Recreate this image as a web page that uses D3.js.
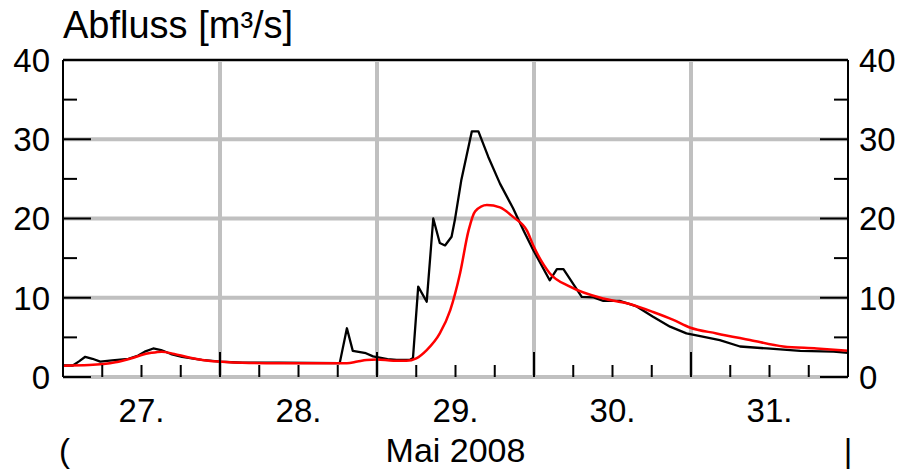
<!DOCTYPE html>
<html>
<head>
<meta charset="utf-8">
<script src="https://cdn.jsdelivr.net/npm/d3@7"></script>
<style>
  body { margin: 0; background: #fff; }
  svg { display: block; font-family: "Liberation Sans", Arial, sans-serif; }
</style>
</head>
<body>
<svg id="chart" width="902" height="469"></svg>
<script>
// hours since 27 May 2008 00:00
const obsHours = [0, 1.5, 2.5, 3.4, 4.5, 5.7, 7.5, 10, 11.5, 12.5, 13.8, 15, 16.5, 18.2, 21.2, 24, 27.4, 33,
  42.3, 43.4, 44.3, 46.3, 47.4, 49.6, 51, 53, 53.5, 54.3, 55.6, 56.6, 57.6, 58.4, 59.4, 59.9, 60.9, 62.5, 63.5,
  65, 66.8, 68.8, 70.4, 71.9, 74.4, 75.5, 76.5, 79.3, 81.1, 82.6, 85.1, 87.7, 90.2, 92.8, 95.3, 97.4, 100.4,
  103.5, 107.6, 112.7, 117.8, 120];
const obsValues = [1.45, 1.45, 2.0, 2.55, 2.3, 1.95, 2.1, 2.3, 2.7, 3.2, 3.6, 3.4, 2.9, 2.55, 2.15, 1.95, 1.8, 1.8,
  1.75, 6.15, 3.3, 3.0, 2.6, 2.25, 2.15, 2.15, 2.4, 11.4, 9.5, 20.0, 16.9, 16.6, 17.7, 19.8, 24.9, 31.0, 31.0,
  27.8, 24.4, 21.3, 18.5, 16.0, 12.2, 13.6, 13.6, 10.1, 10.05, 9.6, 9.6, 8.9, 7.6, 6.35, 5.5, 5.15, 4.65,
  3.85, 3.6, 3.3, 3.2, 3.05];

const simHours = [0, 4, 8, 9.1, 11, 12, 13.5, 15.1, 17, 19.1, 22.2, 24.3, 27.4, 33, 43.4, 45, 46.4, 48, 50.5,
  52.5, 54, 55.6, 57.6, 59.2, 60.7, 62, 63, 64.8, 66.8, 68.8, 70.9, 72, 74.4, 77.5, 82.6, 86.2, 90.2, 93.3,
  95.8, 99.9, 105, 110.1, 115.2, 120];
const simValues = [1.43, 1.5, 1.85, 2.06, 2.5, 2.78, 3.05, 3.2, 2.9, 2.5, 2.06, 1.93, 1.8, 1.73, 1.73, 1.95, 2.15,
  2.22, 2.06, 2.06, 2.36, 3.4, 5.5, 8.45, 13.1, 18.5, 20.9, 21.7, 21.4, 20.2, 18.5, 16.4, 13.1, 11.4, 9.9, 9.3,
  8.2, 7.2, 6.25, 5.5, 4.67, 3.85, 3.6, 3.3];

const yMajor = [0, 10, 20, 30, 40];
const yMinor = [5, 15, 25, 35];
const dayLabels = ["27.", "28.", "29.", "30.", "31."];
const title = "Abfluss [m³/s]";
const monthLabel = "Mai 2008";

const start = new Date(2008, 4, 27);
const end = new Date(2008, 5, 1);
const toDate = (h) => new Date(start.getTime() + h * 3600e3);

const plotLeft = 63, plotRight = 848, plotTop = 60, plotBottom = 377;

const x = d3.scaleTime().domain([start, end]).range([plotLeft, plotRight]);
const y = d3.scaleLinear().domain([0, 40]).range([plotBottom, plotTop]);

const svg = d3.select("#chart");
svg.append("rect").attr("width", 902).attr("height", 469).attr("fill", "#fff");

const grid = svg.append("g");
grid.selectAll("line.h")
  .data(yMajor)
  .enter()
  .append("line")
  .attr("x1", plotLeft).attr("x2", plotRight)
  .attr("y1", (d) => y(d)).attr("y2", (d) => y(d))
  .attr("stroke", "#c0c0c0").attr("stroke-width", 4);

const days = d3.timeDay.range(d3.timeDay.offset(start, 1), end);
grid.selectAll("line.v")
  .data(days)
  .enter()
  .append("line")
  .attr("x1", (d) => x(d)).attr("x2", (d) => x(d))
  .attr("y1", plotTop).attr("y2", plotBottom)
  .attr("stroke", "#c0c0c0").attr("stroke-width", 4);

// data lines
const obs = obsHours.map((h, i) => [toDate(h), obsValues[i]]);
const sim = simHours.map((h, i) => [toDate(h), simValues[i]]);

svg.append("path")
  .datum(obs)
  .attr("fill", "none")
  .attr("stroke", "#000")
  .attr("stroke-width", 2.3)
  .attr("stroke-linejoin", "round")
  .attr("d", d3.line().x((d) => x(d[0])).y((d) => y(d[1])));

svg.append("path")
  .datum(sim)
  .attr("fill", "none")
  .attr("stroke", "#ff0000")
  .attr("stroke-width", 2.5)
  .attr("d", d3.line().curve(d3.curveMonotoneX).x((d) => x(d[0])).y((d) => y(d[1])));

// frame
const frame = svg.append("g").attr("stroke", "#000").attr("stroke-width", 2);
frame.append("line").attr("x1", plotLeft).attr("x2", plotRight).attr("y1", plotTop).attr("y2", plotTop);
frame.append("line").attr("x1", plotLeft).attr("x2", plotLeft).attr("y1", plotTop).attr("y2", plotBottom);
frame.append("line").attr("x1", plotRight).attr("x2", plotRight).attr("y1", plotTop).attr("y2", plotBottom);

// y ticks, both sides pointing inward
yMajor.forEach((v) => {
  frame.append("line").attr("x1", plotLeft).attr("x2", plotLeft + 28).attr("y1", y(v)).attr("y2", y(v));
  frame.append("line").attr("x1", plotRight - 28).attr("x2", plotRight).attr("y1", y(v)).attr("y2", y(v));
});
yMinor.forEach((v) => {
  frame.append("line").attr("x1", plotLeft).attr("x2", plotLeft + 14).attr("y1", y(v)).attr("y2", y(v));
  frame.append("line").attr("x1", plotRight - 14).attr("x2", plotRight).attr("y1", y(v)).attr("y2", y(v));
});

// x ticks
x.ticks(d3.timeHour.every(6)).forEach((t) => {
  if (+t === +start || +t === +end) return;
  const major = t.getHours() === 0;
  frame.append("line")
    .attr("x1", x(t)).attr("x2", x(t))
    .attr("y1", plotBottom - (major ? 25 : 12)).attr("y2", plotBottom);
});

const text = svg.append("g").attr("fill", "#000").attr("font-size", 33);

text.selectAll("text.yl")
  .data(yMajor)
  .enter()
  .append("text")
  .attr("x", plotLeft - 13)
  .attr("y", (d) => y(d))
  .attr("dy", "0.36em")
  .attr("text-anchor", "end")
  .text((d) => d);

text.selectAll("text.yr")
  .data(yMajor)
  .enter()
  .append("text")
  .attr("x", plotRight + 11)
  .attr("y", (d) => y(d))
  .attr("dy", "0.36em")
  .text((d) => d);

text.selectAll("text.xl")
  .data(dayLabels)
  .enter()
  .append("text")
  .attr("x", (d, i) => x(d3.timeHour.offset(start, 24 * i + 12)))
  .attr("y", 422)
  .attr("text-anchor", "middle")
  .text((d) => d);

text.append("text")
  .attr("x", x(d3.timeHour.offset(start, 60)))
  .attr("y", 462)
  .attr("font-size", 34)
  .attr("text-anchor", "middle")
  .text(monthLabel);

text.append("text").attr("x", 59).attr("y", 462).text("(");
text.append("text").attr("x", plotRight).attr("y", 462).attr("text-anchor", "middle").text("|");

svg.append("text")
  .attr("x", 63)
  .attr("y", 38)
  .attr("font-size", 38)
  .text(title);
</script>
</body>
</html>
